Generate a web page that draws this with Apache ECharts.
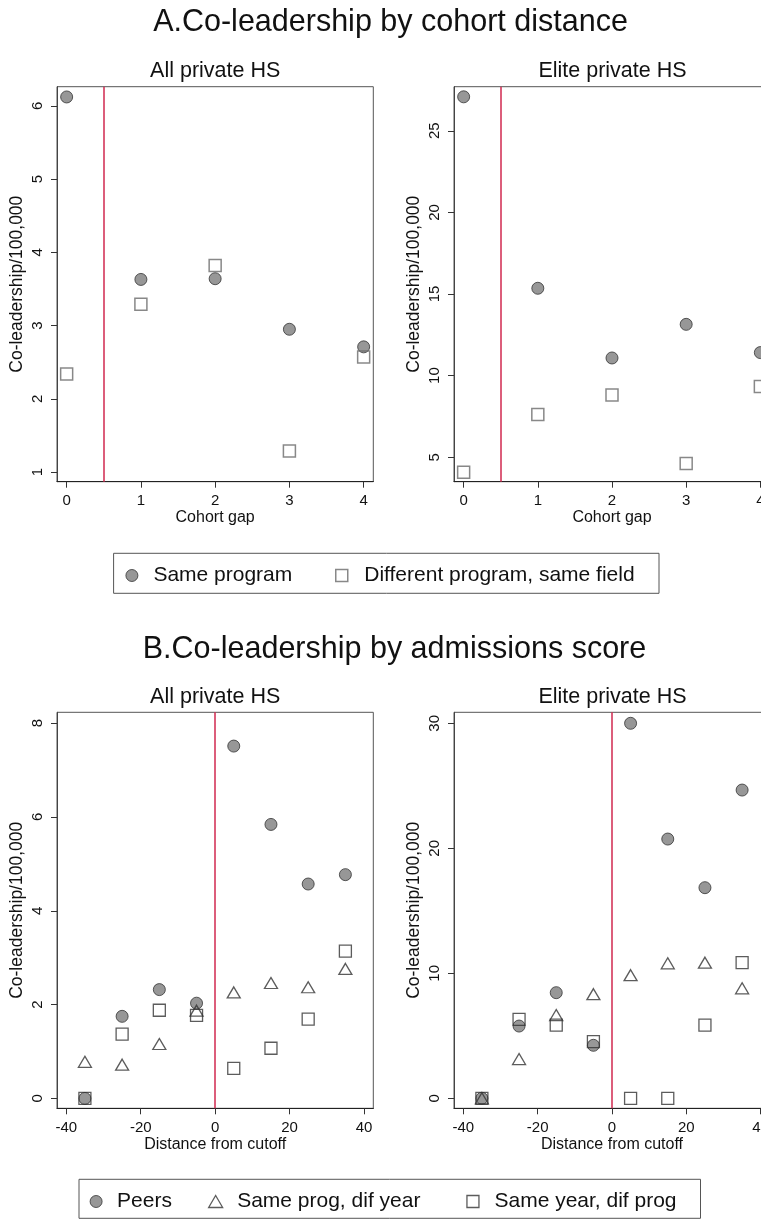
<!DOCTYPE html>
<html>
<head>
<meta charset="utf-8">
<script src="https://cdn.jsdelivr.net/npm/echarts@6/dist/echarts.min.js"></script>
<style>html,body{margin:0;padding:0;background:#fff}#c{width:761px;height:1219px}</style>
</head>
<body>
<div id="c"></div>
<script>
// ---- data ----
const cohortGap = [0, 1, 2, 3, 4];
const aAllSameProgram = [6.12, 3.63, 3.64, 2.95, 2.71];
const aAllDiffProgram = [2.34, 3.29, 3.82, 1.29, 2.57];
const aEliteSameProgram = [27.08, 15.35, 11.08, 13.14, 11.41];
const aEliteDiffProgram = [4.08, 7.61, 8.81, 4.61, 9.33];

const scoreBins = [-35, -25, -15, -5, 5, 15, 25, 35];
const bAllPeers = [0, 1.75, 2.32, 2.03, 7.51, 5.84, 4.57, 4.77];
const bAllSameProg = [0.78, 0.72, 1.16, 1.87, 2.26, 2.46, 2.37, 2.76];
const bAllSameYear = [0, 1.37, 1.88, 1.77, 0.64, 1.07, 1.69, 3.14];
const bElitePeers = [0, 5.78, 8.45, 4.24, 30.0, 20.74, 16.85, 24.66];
const bEliteSameProg = [0, 3.14, 6.66, 8.33, 9.85, 10.8, 10.85, 8.8];
const bEliteSameYear = [0, 6.32, 5.86, 4.53, 0, 0, 5.86, 10.85];

const aXTicks = [0, 1, 2, 3, 4];
const aAllYTicks = [1, 2, 3, 4, 5, 6];
const aEliteYTicks = [5, 10, 15, 20, 25];
const bXTicks = [-40, -20, 0, 20, 40];
const bAllYTicks = [0, 2, 4, 6, 8];
const bEliteYTicks = [0, 10, 20, 30];

const cutoffA = 0.5;
const cutoffB = 0;

// ---- styles ----
const FONT = "'Liberation Sans', Arial, sans-serif";
const RED = '#d0284f';
const circleStyle = {color: '#7d7d7d', borderColor: '#333', borderWidth: 1};
const squareStyleA = {color: 'rgba(0,0,0,0)', borderColor: '#6a6a6a', borderWidth: 1.5};
const squareStyleB = {color: 'rgba(0,0,0,0)', borderColor: '#333', borderWidth: 1.3};
const triStyle = {color: 'rgba(0,0,0,0)', borderColor: '#333', borderWidth: 1.3};

const zip = (xs, ys) => xs.map((x, i) => [x, ys[i]]);

function xAx(gi, min, max, ticks, name) {
  return {
    type: 'value', gridIndex: gi, min: min, max: max,
    name: name, nameLocation: 'middle', nameGap: 28,
    nameTextStyle: {fontSize: 16, color: '#111', fontFamily: FONT},
    axisLine: {show: true, onZero: false, lineStyle: {color: '#222', width: 1.2}},
    axisTick: {show: true, inside: false, length: 6, customValues: ticks, lineStyle: {color: '#333'}},
    axisLabel: {customValues: ticks, margin: 12, fontSize: 15, color: '#111', fontFamily: FONT},
    splitLine: {show: false}
  };
}
function yAx(gi, min, max, ticks) {
  return {
    type: 'value', gridIndex: gi, min: min, max: max,
    name: 'Co-leadership/100,000', nameLocation: 'middle', nameGap: 31, nameRotate: 90,
    nameTextStyle: {fontSize: 17.5, color: '#111', fontFamily: FONT},
    axisLine: {show: true, onZero: false, lineStyle: {color: '#444', width: 1}},
    axisTick: {show: true, inside: false, length: 6, customValues: ticks, lineStyle: {color: '#333'}},
    axisLabel: {customValues: ticks, rotate: 90, margin: 12, fontSize: 15, color: '#111', fontFamily: FONT},
    splitLine: {show: false}
  };
}
function redLine(v) {
  return {silent: true, symbol: 'none', label: {show: false}, animation: false,
    lineStyle: {color: RED, width: 1.5, type: 'solid'}, data: [{xAxis: v}]};
}
function sc(name, gi, data, symbol, size, style, mark) {
  const s = {type: 'scatter', name: name, xAxisIndex: gi, yAxisIndex: gi, data: data,
    symbol: symbol, symbolSize: size, itemStyle: style, animation: false, z: 3};
  if (mark !== undefined) s.markLine = redLine(mark);
  return s;
}
function leg(name, left, top, w, h, pad, style) {
  return {data: [name], left: left, top: top, padding: 0, itemWidth: w, itemHeight: h,
    itemStyle: style, selectedMode: false,
    textStyle: {fontSize: 21, color: '#111', fontFamily: FONT, padding: [0, 0, 0, pad]}};
}

const gridBase = {show: true, borderColor: '#555', borderWidth: 1, backgroundColor: 'transparent',
  containLabel: false, outerBoundsMode: 'none'};

const option = {
  backgroundColor: '#fff',
  animation: false,
  textStyle: {fontFamily: FONT},
  grid: [
    Object.assign({left: 57, top: 86.7, width: 316.3, height: 395}, gridBase),
    Object.assign({left: 454, top: 86.7, width: 316, height: 395}, gridBase),
    Object.assign({left: 57, top: 712.3, width: 316.3, height: 396}, gridBase),
    Object.assign({left: 454, top: 712.3, width: 316, height: 396}, gridBase)
  ],
  xAxis: [
    xAx(0, -0.13, 4.13, aXTicks, 'Cohort gap'),
    xAx(1, -0.13, 4.13, aXTicks, 'Cohort gap'),
    xAx(2, -42.5, 42.5, bXTicks, 'Distance from cutoff'),
    xAx(3, -42.5, 42.5, bXTicks, 'Distance from cutoff')
  ],
  yAxis: [
    yAx(0, 0.87, 6.26, aAllYTicks),
    yAx(1, 3.5, 27.7, aEliteYTicks),
    yAx(2, -0.21, 8.23, bAllYTicks),
    yAx(3, -0.8, 30.88, bEliteYTicks)
  ],
  legend: [
    leg('Same program', 125.4, 565, 12, 12, 10.5, {color: '#7d7d7d', borderColor: '#333', borderWidth: 1}),
    leg('Different program, same field', 335, 565, 12, 12, 11.5, {color: 'rgba(0,0,0,0)', borderColor: '#6a6a6a', borderWidth: 1.5}),
    leg('Peers', 89.6, 1191, 12, 12, 10, {color: '#7d7d7d', borderColor: '#333', borderWidth: 1}),
    leg('Same prog, dif year', 208, 1191, 14, 12, 9.5, {color: 'rgba(0,0,0,0)', borderColor: '#333', borderWidth: 1.3}),
    leg('Same year, dif prog', 466.3, 1191, 12, 12, 10.5, {color: 'rgba(0,0,0,0)', borderColor: '#333', borderWidth: 1.3})
  ],
  series: [
    sc('Same program', 0, zip(cohortGap, aAllSameProgram), 'circle', 12, circleStyle, cutoffA),
    sc('Different program, same field', 0, zip(cohortGap, aAllDiffProgram), 'rect', 12, squareStyleA),
    sc('Same program', 1, zip(cohortGap, aEliteSameProgram), 'circle', 12, circleStyle, cutoffA),
    sc('Different program, same field', 1, zip(cohortGap, aEliteDiffProgram), 'rect', 12, squareStyleA),
    sc('Peers', 2, zip(scoreBins, bAllPeers), 'circle', 12, circleStyle, cutoffB),
    sc('Same prog, dif year', 2, zip(scoreBins, bAllSameProg), 'triangle', [13, 11], triStyle),
    sc('Same year, dif prog', 2, zip(scoreBins, bAllSameYear), 'rect', 12, squareStyleB),
    sc('Peers', 3, zip(scoreBins, bElitePeers), 'circle', 12, circleStyle, cutoffB),
    sc('Same prog, dif year', 3, zip(scoreBins, bEliteSameProg), 'triangle', [13, 11], triStyle),
    sc('Same year, dif prog', 3, zip(scoreBins, bEliteSameYear), 'rect', 12, squareStyleB)
  ],
  graphic: [
    {type: 'text', x: 390.5, y: 23, silent: true, style: {text: 'A.Co-leadership by cohort distance', fontSize: 30.5, fontFamily: FONT, fill: '#111', align: 'center', verticalAlign: 'middle'}},
    {type: 'text', x: 394.5, y: 650, silent: true, style: {text: 'B.Co-leadership by admissions score', fontSize: 30.5, fontFamily: FONT, fill: '#111', align: 'center', verticalAlign: 'middle'}},
    {type: 'text', x: 215.2, y: 71, silent: true, style: {text: 'All private HS', fontSize: 21.5, fontFamily: FONT, fill: '#111', align: 'center', verticalAlign: 'middle'}},
    {type: 'text', x: 612.5, y: 71, silent: true, style: {text: 'Elite private HS', fontSize: 21.5, fontFamily: FONT, fill: '#111', align: 'center', verticalAlign: 'middle'}},
    {type: 'text', x: 215.2, y: 697.5, silent: true, style: {text: 'All private HS', fontSize: 21.5, fontFamily: FONT, fill: '#111', align: 'center', verticalAlign: 'middle'}},
    {type: 'text', x: 612.5, y: 697.5, silent: true, style: {text: 'Elite private HS', fontSize: 21.5, fontFamily: FONT, fill: '#111', align: 'center', verticalAlign: 'middle'}},
    {type: 'rect', silent: true, shape: {x: 113.6, y: 553.3, width: 545.4, height: 40}, style: {fill: 'none', stroke: '#555', lineWidth: 1}},
    {type: 'rect', silent: true, shape: {x: 79, y: 1179.3, width: 621.5, height: 39}, style: {fill: 'none', stroke: '#555', lineWidth: 1}}
  ]
};

const chart = echarts.init(document.getElementById('c'), null, {renderer: 'canvas'});
chart.setOption(option);
</script>
</body>
</html>
